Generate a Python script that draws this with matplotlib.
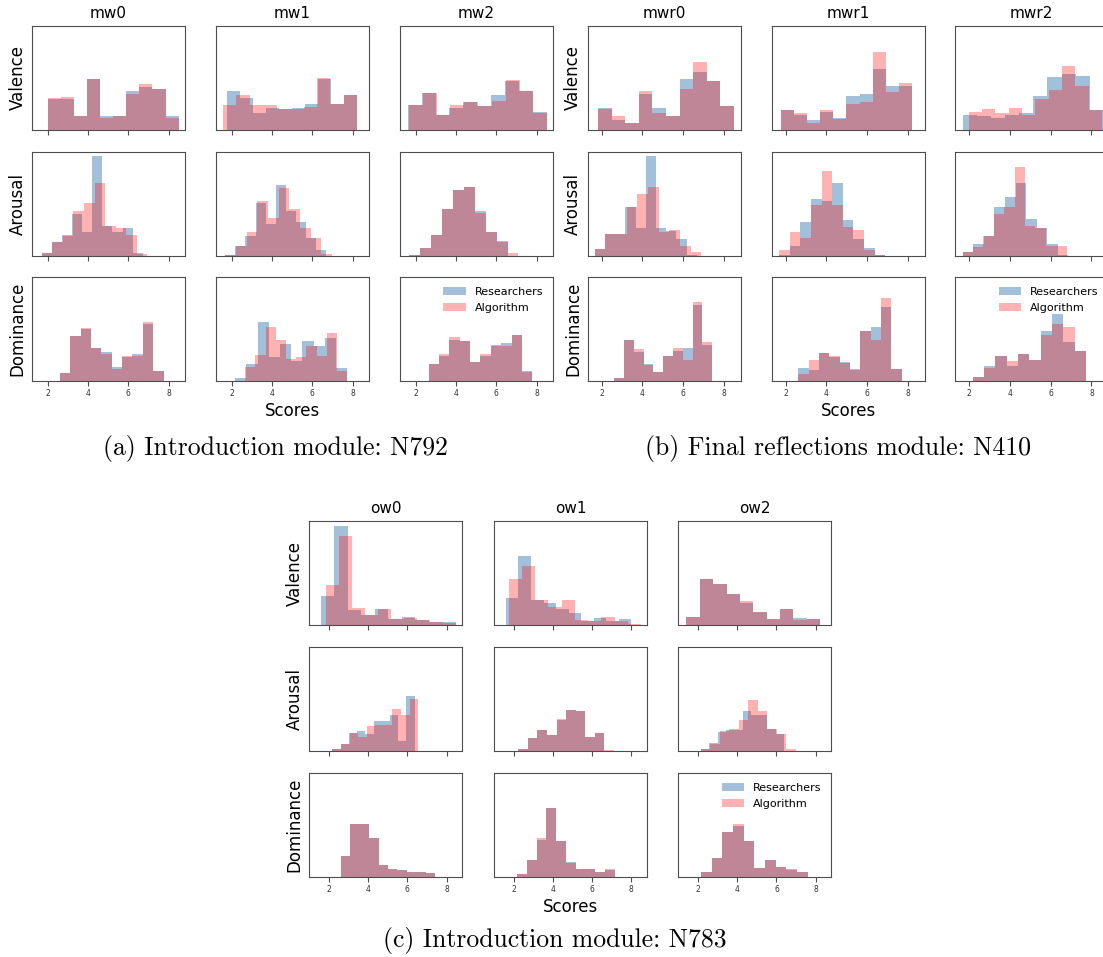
import numpy as np
import matplotlib.pyplot as plt

# each histogram: (first edge, last edge, bar heights in % of the panel height)
# panel (a) - Introduction module N792
mw0_V_res = (2.00, 8.50, [30, 30, 13.5, 49, 13, 13.5, 37.5, 41.5, 39, 13])
mw0_V_alg = (2.00, 8.50, [30.5, 32, 13.5, 49.5, 12, 13.5, 35, 44, 39, 12])
mw1_V_res = (1.77, 8.23, [37.5, 30.4, 16, 21, 20, 21.5, 24.7, 49, 24.7, 34])
mw1_V_alg = (1.55, 8.23, [23.7, 34, 23.7, 23.7, 20, 20, 22.4, 50, 24.7, 33.3])
mw2_V_res = (1.58, 8.53, [23.7, 36, 14, 21, 27, 22.8, 33.3, 46.8, 37.5, 17])
mw2_V_alg = (1.64, 8.53, [23.7, 36, 14, 23.7, 27, 22.8, 28, 48, 37.5, 16.3])
mw0_A_res = (1.68, 6.72, [2.6, 13.5, 20, 40, 23, 96.5, 28.7, 23, 27.4, 2.6])
mw0_A_alg = (1.68, 6.95, [2.6, 13.5, 19, 43, 51, 70, 29, 27.4, 20, 2])
mw1_A_res = (1.66, 6.70, [1.3, 10, 19, 51, 31, 68, 43, 33, 17.4, 5.5])
mw1_A_alg = (1.66, 6.97, [1.3, 10, 23, 52.6, 37, 65, 45, 26.5, 17.4, 2])
mw2_A_res = (1.64, 7.10, [1.3, 7.4, 20, 45, 63, 66, 43.5, 23, 14, 0])
mw2_A_alg = (1.64, 7.10, [1.3, 7.4, 20, 45, 63.5, 66, 41, 23, 13.5, 3])
mw0_D_res = (2.59, 7.75, [7.9, 43, 50, 31.7, 27.6, 13, 22.9, 25.7, 54.6, 9.2])
mw0_D_alg = (2.59, 7.75, [7.9, 43.5, 51, 31.7, 26, 11.4, 24.4, 24.4, 56.5, 9.2])
mw1_D_res = (2.16, 7.73, [3.2, 16.5, 57, 23.5, 35.5, 19, 38.4, 33.7, 41.3, 12.7])
mw1_D_alg = (2.66, 7.73, [13.3, 25.4, 52, 39, 21, 23, 33.7, 24.4, 46, 9.5])
mw2_D_res = (2.62, 7.79, [15.9, 24, 39.4, 38.7, 18, 24.4, 34.6, 36.8, 44, 9.2])
mw2_D_alg = (2.62, 7.79, [15.9, 25.7, 42, 38.7, 18, 25.7, 34, 34, 44, 8.6])

# panel (b) - Final reflections module N410
mwr0_V_res = (1.83, 8.49, [20.8, 9.6, 7, 35, 20.8, 13.5, 49.4, 56, 46.8, 22.8])
mwr0_V_alg = (1.83, 8.49, [19.9, 13.5, 7, 37.8, 16.3, 13.5, 39, 65.4, 46.8, 22.8])
mwr1_V_res = (1.77, 8.22, [19, 14.4, 9.6, 17, 11.5, 33, 35, 58.3, 42, 42.3])
mwr1_V_alg = (1.77, 8.22, [19, 16.7, 7, 19, 10.3, 25, 27, 74.7, 36.9, 45])
mwr2_V_res = (1.67, 8.62, [14, 13, 11.5, 14, 16.5, 33, 50.5, 54, 52, 19])
mwr2_V_alg = (1.97, 8.52, [17.6, 20, 16.7, 20.8, 14, 29.8, 38.5, 62, 42.6, 19])
mwr0_A_res = (1.65, 6.68, [6.5, 21, 21, 47, 26.5, 96.5, 27.4, 24, 16.8, 0.6])
mwr0_A_alg = (1.65, 6.90, [6.5, 21.3, 21.6, 46.8, 59.7, 66.8, 23.2, 24.8, 9.4, 3.9])
mwr1_A_res = (1.69, 6.90, [1.3, 9.4, 33, 54.5, 53, 70, 34.5, 16.8, 8, 0.6])
mwr1_A_alg = (1.69, 6.90, [5.5, 22.6, 17.4, 49, 82, 49, 28, 24.8, 5.5, 1.3])
mwr2_A_res = (1.67, 6.87, [3.5, 11.6, 19.4, 46.8, 56.5, 70, 35.5, 26.5, 12, 1.3])
mwr2_A_alg = (1.67, 6.78, [3.5, 8.4, 19.4, 40.6, 47.4, 86, 28.7, 26.5, 10, 9.4])
mwr0_D_res = (2.61, 7.43, [3.2, 39.4, 28.3, 16.5, 8.6, 24.4, 28.9, 31.4, 72.7, 34.6])
mwr0_D_alg = (2.61, 7.43, [3.2, 39.4, 30.8, 15.6, 8.6, 24.4, 31.4, 20.3, 76, 37.8])
mwr1_D_res = (2.62, 7.71, [12.7, 10.8, 27, 22.9, 18, 11.7, 48, 52, 71, 11.7])
mwr1_D_alg = (2.62, 7.71, [6.7, 20, 27, 23.8, 17.5, 10.8, 48, 39.4, 80, 11.7])
mwr2_D_res = (2.17, 7.73, [3.5, 14.6, 24, 14, 26, 20.3, 47.6, 64.8, 37.8, 28.6])
mwr2_D_alg = (2.17, 7.73, [3.5, 12.7, 24, 19.7, 26, 20.3, 44.4, 54.6, 52, 28.6])

# panel (c) - Introduction module N783
ow0_V_res = (1.59, 8.46, [27.6, 95, 14, 10, 15, 5.8, 7.4, 4.5, 2.6, 2.6])
ow0_V_alg = (1.87, 8.46, [38, 86, 16, 10, 15, 5.8, 6.4, 4.5, 2.6, 2])
ow1_V_res = (1.61, 8.00, [26, 66, 23.7, 21, 15.7, 11.9, 3.5, 6.7, 3.5, 5.4])
ow1_V_alg = (1.74, 8.50, [44, 56.4, 24.4, 17.3, 23.7, 4.5, 3.5, 7.4, 3.5, 1.3])
ow2_V_res = (1.41, 8.22, [7.4, 44.6, 39, 29.5, 21.5, 12.5, 5.4, 15, 7, 5.4])
ow2_V_alg = (1.41, 8.22, [7.4, 44.6, 39, 29.5, 22.8, 12.5, 5.4, 15, 5, 5.4])
ow0_A_res = (2.18, 6.37, [2, 7, 17.6, 19.6, 16.3, 28.5, 28.5, 34.3, 10, 53])
ow0_A_alg = (2.18, 6.55, [2, 7, 17.6, 13.5, 24, 24.7, 24.7, 40, 34.3, 49.7])
ow1_A_res = (2.24, 7.12, [2.2, 12.5, 20.5, 15.5, 30, 39, 38, 13.5, 17.6, 0])
ow1_A_alg = (2.24, 7.12, [2.2, 12.5, 20.5, 15, 30.5, 39.4, 38, 13.5, 17, 1.3])
ow2_A_res = (2.15, 6.39, [2.2, 8, 18, 20, 20, 38, 35, 35, 20.8, 16])
ow2_A_alg = (2.15, 6.98, [2.2, 6.7, 19, 20.8, 29.5, 48.7, 38.3, 21.5, 16.3, 2.2])
ow0_D_res = (2.61, 7.42, [20.4, 51, 50.5, 37.4, 11.8, 8, 6.4, 4.5, 4.5, 3.5])
ow0_D_alg = (2.61, 7.42, [20.4, 50.5, 51, 37.4, 11.2, 8, 6.4, 4.5, 4.5, 3.5])
ow1_D_res = (2.17, 7.17, [2.6, 16, 36, 66, 34.8, 14, 8, 8, 4.5, 6.4])
ow1_D_alg = (2.17, 7.17, [2.6, 16, 37.4, 66, 34.2, 13, 7.3, 7.3, 4.5, 8])
ow2_D_res = (2.15, 7.60, [4.5, 18.5, 43, 49, 35, 9, 16, 9.6, 7.3, 4.5])
ow2_D_alg = (2.15, 7.60, [4.5, 18.5, 43, 51, 35, 9, 16, 9.6, 6.4, 4.5])

row_names = ['Valence', 'Arousal', 'Dominance']
row_keys = ['V', 'A', 'D']
ticks = [2, 4, 6, 8]
captions = ['(a) Introduction module: N792', '(b) Final reflections module: N410',
            '(c) Introduction module: N783']

W, H = 1103, 957
fig = plt.figure(figsize=(W / 100, H / 100), dpi=100)

data = globals()


def add_ax(left, top, w=153, h=104):
    return fig.add_axes([left / W, 1 - (top + h) / H, w / W, h / H])


def draw_grid(prefix, cols, rows, xlim):
    for r, key in enumerate(row_keys):
        for c in range(3):
            name = f'{prefix}{c}'
            ax = add_ax(cols[c], rows[r])
            for suffix, color, alpha, label in [('res', 'steelblue', 0.5, 'Researchers'),
                                                ('alg', 'red', 0.3, 'Algorithm')]:
                lo, hi, h = data[f'{name}_{key}_{suffix}']
                edges = np.linspace(lo, hi, len(h) + 1)
                ax.stairs(h, edges, fill=True, color=color, alpha=alpha,
                          linewidth=0, label=label)
            ax.set_xlim(*xlim)
            ax.set_ylim(0, 100)
            ax.set_yticks([])
            ax.set_xticks(ticks)
            ax.tick_params(axis='x', labelsize=5.5, length=3.5, width=0.8,
                           color='0.3', labelcolor='0.2', pad=2.5)
            for s in ax.spines.values():
                s.set_color('0.3')
                s.set_linewidth(0.8)
            if r < 2:
                ax.set_xticklabels([])
            if r == 0:
                ax.set_title(name, fontsize=11)
            if c == 0:
                ax.set_ylabel(row_names[r], fontsize=12)
            if r == 2 and c == 1:
                ax.set_xlabel('Scores', fontsize=12, labelpad=3)
            if r == 2 and c == 2:
                ax.legend(loc='upper right', frameon=False, fontsize=8)


draw_grid('mw', [32, 216, 400], [26, 152, 277], (1.2, 8.82))
draw_grid('mwr', [587.7, 771.5, 955.3], [26, 152, 277], (1.31, 8.83))
draw_grid('ow', [309.3, 494, 678.4], [521, 647, 773], (1.0, 8.8))

for txt, x, y in zip(captions, [275, 838, 555], [448, 448, 941]):
    fig.text(x / W, 1 - y / H, txt, family='cmr10', fontsize=18.5,
             ha='center', va='center')

fig.savefig('out.png', dpi=100)
